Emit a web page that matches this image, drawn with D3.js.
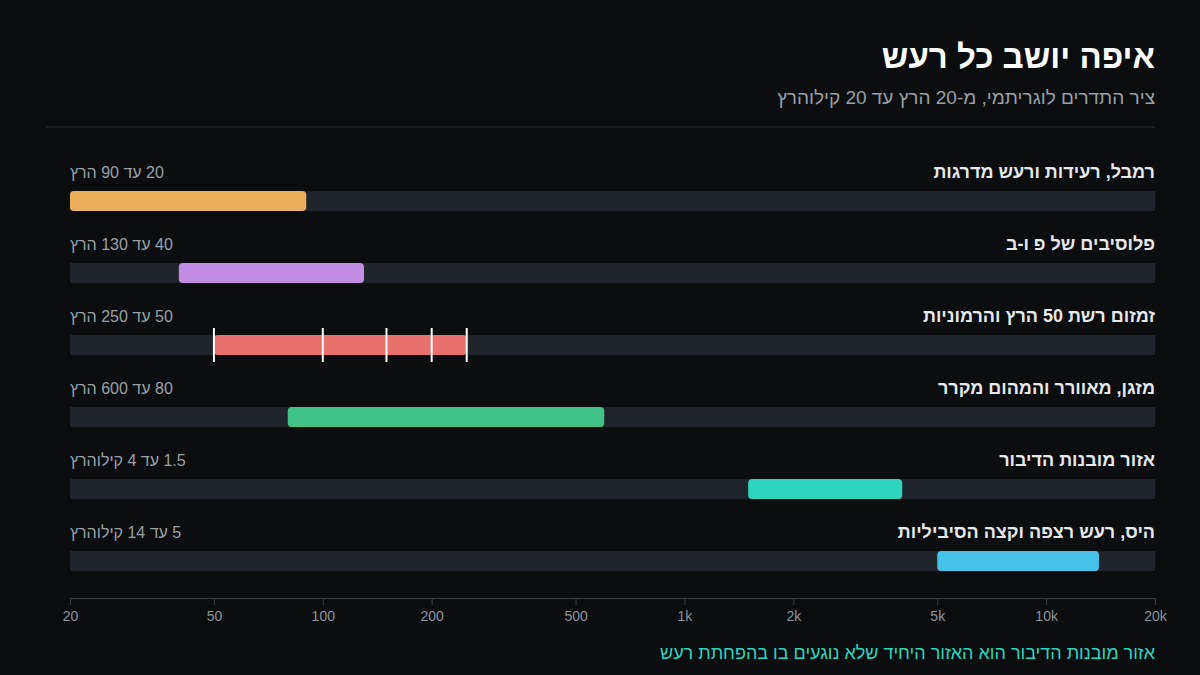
<!DOCTYPE html>
<html lang="he"><head><meta charset="utf-8">
<script src="https://cdn.jsdelivr.net/npm/d3@7"></script>
<style>
html,body{margin:0;padding:0;background:#0b0d0f;}
svg{display:block;font-family:"Liberation Sans","DejaVu Sans",Arial,sans-serif;}
</style></head><body>
<svg id="c" width="1200" height="675"></svg>
<script>
const title = "איפה יושב כל רעש";
const subtitle = "ציר התדרים לוגריתמי, מ-20 הרץ עד 20 קילוהרץ";
const footer = "אזור מובנות הדיבור הוא האזור היחיד שלא נוגעים בו בהפחתת רעש";
const categories = ["רמבל, רעידות ורעש מדרגות","פלוסיבים של פ ו-ב","זמזום רשת 50 הרץ והרמוניות","מזגן, מאוורר והמהום מקרר","אזור מובנות הדיבור","היס, רעש רצפה וקצה הסיביליות"];
const rangeLabels = ["20 עד 90 הרץ","40 עד 130 הרץ","50 עד 250 הרץ","80 עד 600 הרץ","1.5 עד 4 קילוהרץ","5 עד 14 קילוהרץ"];
const lowHz = [20,40,50,80,1500,5000];
const highHz = [90,130,250,600,4000,14000];
const colors = ["#ecb05c","#c38de6","#e8716d","#41c388","#2fd4bf","#46c1ea"];
const harmonics = [50,100,150,200,250];
const harmonicRow = 2;
const tickValues = [20,50,100,200,500,1000,2000,5000,10000,20000];
const tickLabels = ["20","50","100","200","500","1k","2k","5k","10k","20k"];

const svg = d3.select("#c");
const W = 1200, H = 675;
const left = 70, right = 1155;
svg.append("rect").attr("width",W).attr("height",H).attr("fill","#0b0d0f");

const x = d3.scaleLog().domain([20,20000]).range([left,right]);
const y = d3.scaleBand().domain(d3.range(categories.length)).range([155,587]).paddingInner(0).paddingOuter(0);
const barH = 20;

svg.append("text").attr("x",right).attr("y",68).attr("direction","rtl")
  .attr("fill","#ffffff").attr("font-size",33).attr("font-weight","bold").text(title);
svg.append("text").attr("x",right).attr("y",104).attr("direction","rtl")
  .attr("fill","#9aa0a6").attr("font-size",19).text(subtitle);
svg.append("line").attr("x1",46).attr("x2",right).attr("y1",127).attr("y2",127)
  .attr("stroke","#2c3236").attr("stroke-width",1);

const rows = svg.append("g").selectAll("g").data(categories).join("g")
  .attr("transform",(d,i)=>`translate(0,${y(i)})`);

rows.append("text").attr("x",right).attr("y",23).attr("direction","rtl")
  .attr("fill","#e6e8ea").attr("font-size",18).attr("font-weight","bold").text(d=>d);
rows.append("text").attr("x",left).attr("y",23).attr("direction","rtl").attr("text-anchor","end")
  .attr("fill","#9aa0a6").attr("font-size",16).text((d,i)=>rangeLabels[i]);
rows.append("rect").attr("x",left).attr("y",36).attr("width",right-left).attr("height",barH)
  .attr("fill","#1f252b");
rows.append("rect").attr("x",(d,i)=>x(lowHz[i])).attr("y",36)
  .attr("width",(d,i)=>x(highHz[i])-x(lowHz[i])).attr("height",barH)
  .attr("rx",4).attr("fill",(d,i)=>colors[i]);

rows.filter((d,i)=>i===harmonicRow).selectAll("line.h").data(harmonics).join("line")
  .attr("x1",d=>x(d)).attr("x2",d=>x(d)).attr("y1",29).attr("y2",63)
  .attr("stroke","#ffffff").attr("stroke-width",2);

const axis = d3.axisBottom(x).tickValues(tickValues).tickFormat((d,i)=>tickLabels[i]).tickSize(7).tickPadding(6);
const ag = svg.append("g").attr("transform","translate(0,598)").call(axis);
ag.select(".domain").attr("stroke","#3a4045");
ag.selectAll(".tick line").attr("stroke","#3a4045");
ag.selectAll(".tick text").attr("fill","#8d949a").attr("font-size",14).attr("font-family","Liberation Sans, Arial, sans-serif");

svg.append("text").attr("x",right).attr("y",659).attr("direction","rtl")
  .attr("fill","#2fd4bf").attr("font-size",18).text(footer);
</script>
</body></html>
